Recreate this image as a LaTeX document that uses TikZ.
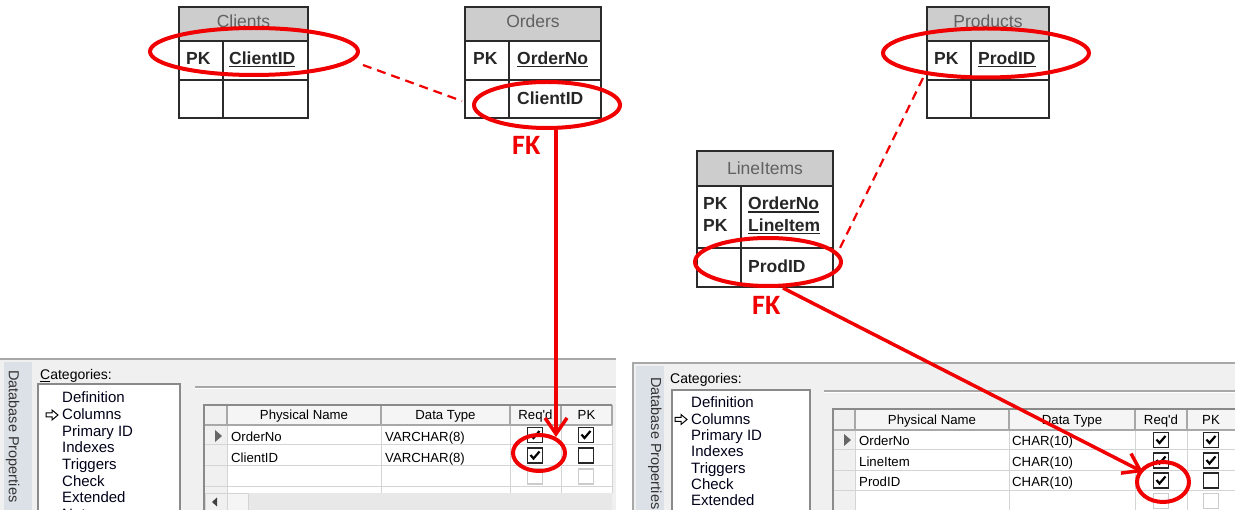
\documentclass[tikz,border=0pt]{standalone}
\usepackage{fontspec}
\setmainfont{Liberation Sans}
\newfontfamily\fkfont{Carlito}
\usetikzlibrary{shapes.geometric,arrows.meta}
\definecolor{hl}{HTML}{F00000}
\definecolor{erdhead}{HTML}{CDCDCD}
\definecolor{erdln}{HTML}{2B2B2B}
\definecolor{panelbg}{HTML}{F0F0F0}
\definecolor{hdrfill}{HTML}{F5F5F5}
\definecolor{gridc}{HTML}{D4D4D4}
\definecolor{hdrline}{HTML}{A8A8A8}
\definecolor{dkline}{HTML}{8A8A8A}
\definecolor{tabbg}{HTML}{DCE1E8}
\definecolor{scrollbg}{HTML}{E8E8E8}
\newsavebox\ulbox
\newcommand\myul[1]{\sbox\ulbox{#1}\rlap{\rule[-3pt]{\wd\ulbox}{1.6pt}}\usebox\ulbox}
\tikzset{
  erd/.style={draw=erdln, line width=2pt},
  erdhd/.style={anchor=base, inner sep=0, text=black!62, font=\fontsize{17.5}{20}\selectfont},
  erdbf/.style={anchor=base west, inner sep=0, text=black!85, font=\bfseries\fontsize{17.5}{20}\selectfont},
  hlell/.style={ellipse, draw=hl, line width=4pt, inner sep=0},
  fkarrow/.style={draw=hl, line width=3.5pt, -{Straight Barb[length=16pt,width=22pt]}},
  fkdash/.style={draw=hl, line width=2.2pt, dash pattern=on 9pt off 6pt},
  fklabel/.style={anchor=base west, inner sep=0, text=hl, font=\fkfont\bfseries\fontsize{28}{30}\selectfont},
  cell/.style={anchor=base west, inner sep=0, font=\fontsize{13.2}{15}\selectfont},
  hcell/.style={anchor=base, inner sep=0, font=\fontsize{13.2}{15}\selectfont},
  catitem/.style={anchor=base west, inner sep=0, text=black!90!blue, font=\fontsize{15}{17}\selectfont},
  tabtext/.style={anchor=base west, inner sep=0, rotate=-90, text=black!80, font=\fontsize{14.5}{17}\selectfont},
  chk/.pic={\draw[fill=white, draw=black!85, line width=1.3pt] (-7.5,-7.5) rectangle (7.5,7.5);
            \draw[line width=2.2pt] (-4.5,-0.5) -- (-1.5,3) -- (4.5,-4);},
  unchk/.pic={\draw[fill=white, draw=black!85, line width=1.3pt] (-7.5,-7.5) rectangle (7.5,7.5);},
  dischk/.pic={\draw[fill=white, draw=black!20, line width=1.2pt] (-7.5,-7.5) rectangle (7.5,7.5);},
  ptr/.pic={\draw[fill=white, draw=black, line width=1pt, line join=miter]
            (-6,-2) -- (0,-2) -- (0,-5) -- (6,0) -- (0,5) -- (0,2) -- (-6,2) -- cycle;}
}
\begin{document}
\begin{tikzpicture}[x=1pt,y=-1pt]
\useasboundingbox (0,0) rectangle (1235,510);
\begin{scope}
\clip (0,0) rectangle (1235,510);

% ================= LEFT PANEL =================
\fill[panelbg] (0,358) rectangle (616,512);
\draw[hdrline, line width=1.5pt] (0,359) -- (616,359);
\fill[tabbg] (4,362) rectangle (32,512);
\node[tabtext] (tabL) at (9,370) {Database Properties};
\node[anchor=base west, inner sep=0, font=\fontsize{14}{16}\selectfont] (catL) at (40,380) {\underline{C}ategories:};
\fill[white] (38,384) rectangle (180,512);
\draw[dkline, line width=1.5pt] (38,512) -- (38,384) -- (180,384) -- (180,512);
\node[catitem] (l1) at (62,403) {Definition};
\node[catitem] (l2) at (62,419.6) {Columns};
\pic at (52,415) {ptr};
\node[catitem] (l3) at (62,436.2) {Primary ID};
\node[catitem] (l4) at (62,452.8) {Indexes};
\node[catitem] (l5) at (62,469.4) {Triggers};
\node[catitem] (l6) at (62,486) {Check};
\node[catitem] (l7) at (62,502.6) {Extended};
\node[catitem] (l8) at (62,519.2) {Notes};
\draw[hdrline, line width=1.2pt] (195,387) -- (616,387);
\draw[white, line width=1.2pt] (195,388.5) -- (616,388.5);

% left grid
\fill[panelbg] (204,405) rectangle (227,493);
\fill[hdrfill] (227,405) rectangle (612,425);
\fill[white] (227,425) rectangle (612,493);
\draw[gridc, line width=1pt] foreach \y in {445,466,487} {(204,\y) -- (612,\y)};
\draw[gridc, line width=1pt] foreach \x in {227,381,510,561} {(\x,425) -- (\x,493)};
\draw[hdrline, line width=1.2pt] foreach \x in {227,381,510,561,612} {(\x,405) -- (\x,425)};
\draw[hdrline, line width=1.2pt] (204,425) -- (612,425);
\draw[gridc, line width=1pt] (612,425) -- (612,493);
\draw[dkline, line width=1.5pt] (204,512) -- (204,405) -- (612,405);
\fill[scrollbg] (205,493) rectangle (612,512);
\draw[fill=panelbg, draw=gridc] (205,493) rectangle (227,512);
\fill[black!75] (212,502) -- (217,497.5) -- (217,506.5) -- cycle;
\draw[fill=hdrfill, draw=gridc] (227,493) rectangle (248,512);
\fill[black!60] (215,430) -- (222,436) -- (215,442) -- cycle;

\node[hcell] (lh1) at (304,420) {Physical Name};
\node[hcell] (lh2) at (445.5,420) {Data Type};
\node[hcell] (lh3) at (535.5,420) {Req\textquotesingle{}d};
\node[hcell] (lh4) at (586.5,420) {PK};
\node[cell] (lr1a) at (231,442) {OrderNo};
\node[cell] (lr1b) at (385,442) {VARCHAR(8)};
\node[cell] (lr2a) at (231,463) {ClientID};
\node[cell] (lr2b) at (385,463) {VARCHAR(8)};
\pic at (535,435) {chk};
\pic at (586,435) {chk};
\pic at (535,455.5) {chk};
\pic at (586,455.5) {unchk};
\pic at (535,476.5) {dischk};
\pic at (586,476.5) {dischk};

% ================= RIGHT PANEL =================
\fill[panelbg] (632,363) rectangle (1237,512);
\draw[hdrline, line width=1.5pt] (633,512) -- (633,363) -- (1237,363);
\fill[tabbg] (636,366) rectangle (664,512);
\node[tabtext] (tabR) at (651,377) {Database Properties};
\node[anchor=base west, inner sep=0, font=\fontsize{14}{16}\selectfont] (catR) at (670,384) {Categories:};
\fill[white] (672,390) rectangle (810,512);
\draw[dkline, line width=1.5pt] (672,512) -- (672,390) -- (810,390) -- (810,512);
\node[catitem] (r1) at (691,408) {Definition};
\node[catitem] (r2) at (691,424.3) {Columns};
\pic at (681,419.5) {ptr};
\node[catitem] (r3) at (691,440.6) {Primary ID};
\node[catitem] (r4) at (691,456.9) {Indexes};
\node[catitem] (r5) at (691,473.2) {Triggers};
\node[catitem] (r6) at (691,489.5) {Check};
\node[catitem] (r7) at (691,505.8) {Extended};
\draw[hdrline, line width=1.2pt] (824,391) -- (1237,391);
\draw[white, line width=1.2pt] (824,392.5) -- (1237,392.5);

% right grid
\fill[panelbg] (833,409) rectangle (855,512);
\fill[hdrfill] (855,409) rectangle (1237,430);
\fill[white] (855,430) rectangle (1237,512);
\draw[gridc, line width=1pt] foreach \y in {450,471,491} {(833,\y) -- (1237,\y)};
\draw[gridc, line width=1pt] foreach \x in {855,1009,1135,1187} {(\x,430) -- (\x,512)};
\draw[hdrline, line width=1.2pt] foreach \x in {855,1009,1135,1187} {(\x,409) -- (\x,430)};
\draw[hdrline, line width=1.2pt] (833,430) -- (1237,430);
\draw[dkline, line width=1.5pt] (833,512) -- (833,409) -- (1237,409);
\fill[black!60] (844,434) -- (851,440) -- (844,446) -- cycle;

\node[hcell] (rh1) at (932,425) {Physical Name};
\node[hcell] (rh2) at (1072,425) {Data Type};
\node[hcell] (rh3) at (1161,425) {Req\textquotesingle{}d};
\node[hcell] (rh4) at (1211,425) {PK};
\node[cell] (rr1a) at (859,446) {OrderNo};
\node[cell] (rr1b) at (1012,446) {CHAR(10)};
\node[cell] (rr2a) at (859,467) {LineItem};
\node[cell] (rr2b) at (1012,467) {CHAR(10)};
\node[cell] (rr3a) at (859,487) {ProdID};
\node[cell] (rr3b) at (1012,487) {CHAR(10)};
\pic at (1161,440) {chk};
\pic at (1211,440) {chk};
\pic at (1161,460.5) {chk};
\pic at (1211,460.5) {chk};
\pic at (1161,480.5) {chk};
\pic at (1211,480.5) {unchk};
\pic at (1161,501) {dischk};
\pic at (1211,501) {dischk};

% ================= ERD TABLES =================
% Clients
\fill[erdhead] (179,7) rectangle (308,41);
\draw[erd] (179,7) rectangle (308,118) (179,41) -- (308,41) (179,80) -- (308,80) (223,41) -- (223,118);
\node[erdhd] (cliH) at (243.5,28) {Clients};
\node[erdbf] (cliPK) at (186,64.5) {PK};
\node[erdbf] (cliID) at (229,64.5) {\myul{ClientID}};
% Orders
\fill[erdhead] (465,7) rectangle (601,41);
\draw[erd] (465,7) rectangle (601,118) (465,41) -- (601,41) (465,80) -- (601,80) (509,41) -- (509,118);
\node[erdhd] (ordH) at (533,28) {Orders};
\node[erdbf] (ordPK) at (473,64.5) {PK};
\node[erdbf] (ordNo) at (517,64.5) {\myul{OrderNo}};
\node[erdbf] (ordCli) at (517,105) {ClientID};
% Products
\fill[erdhead] (927,7) rectangle (1049,41);
\draw[erd] (927,7) rectangle (1049,118) (927,41) -- (1049,41) (927,80) -- (1049,80) (971,41) -- (971,118);
\node[erdhd] (proH) at (988,28) {Products};
\node[erdbf] (proPK) at (934,64.5) {PK};
\node[erdbf] (proID) at (978,64.5) {\myul{ProdID}};
% LineItems
\fill[erdhead] (697,151) rectangle (833,186);
\draw[erd] (697,151) rectangle (833,287) (697,186) -- (833,186) (697,248) -- (833,248) (741,186) -- (741,287);
\node[erdhd] (linH) at (765,175) {LineItems};
\node[erdbf] (linPK1) at (703,210) {PK};
\node[erdbf] (linPK2) at (703,231.5) {PK};
\node[erdbf] (linNo) at (748,210) {\myul{OrderNo}};
\node[erdbf] (linIt) at (748,231.5) {\myul{LineItem}};
\node[erdbf] (linPr) at (748,273) {ProdID};

% ================= HIGHLIGHTS =================
\node[hlell, minimum width=208pt, minimum height=47pt] (eCli) at (254,51.5) {};
\node[hlell, minimum width=146pt, minimum height=46pt] (eOrd) at (547,105) {};
\node[hlell, minimum width=206pt, minimum height=49pt] (ePro) at (986,53) {};
\node[hlell, minimum width=146pt, minimum height=48pt] (eLin) at (768,262) {};
\node[hlell, minimum width=52pt, minimum height=36pt] (cReqL) at (539,453) {};
\node[hlell, minimum width=52pt, minimum height=40pt] (cReqR) at (1163,482) {};

\node[fklabel] (fkL) at (512,155) {FK};
\node[fklabel] (fkR) at (752,315) {FK};

\coordinate (d1a) at (363,65);
\coordinate (d1b) at (462,101);
\coordinate (d2a) at (923,78);
\coordinate (d2b) at (840,248);
\draw[fkdash] (d1a) -- (d1b);
\draw[fkdash] (d2a) -- (d2b);

\coordinate (a1s) at (556,127);
\coordinate (a1e) at (556,437);
\coordinate (a2s) at (783,288);
\coordinate (a2e) at (1143,472);
\draw[fkarrow] (a1s) -- (a1e);
\draw[fkarrow] (a2s) -- (a2e);
\end{scope}
\end{tikzpicture}
\end{document}
